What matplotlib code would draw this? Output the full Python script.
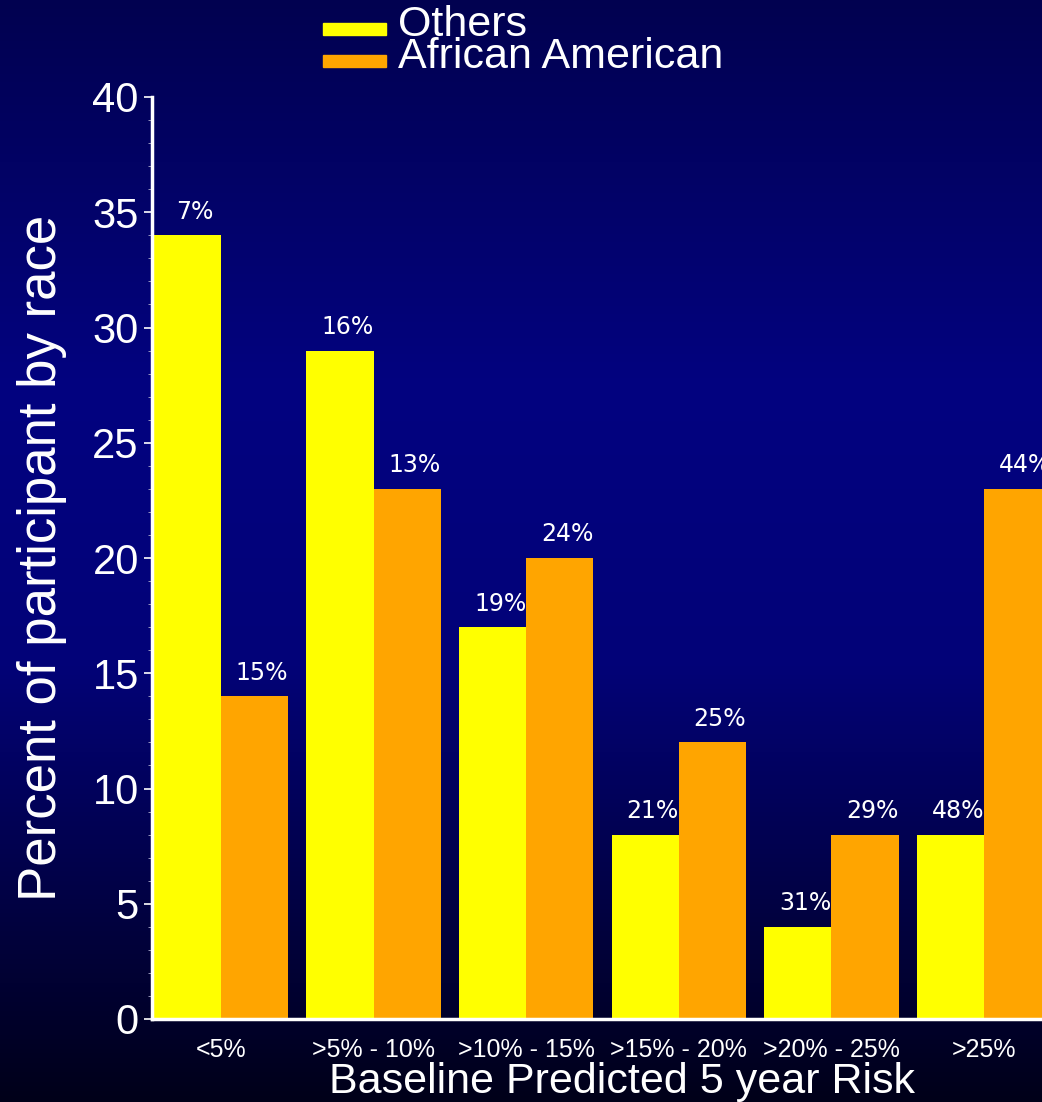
import numpy as np
import matplotlib.pyplot as plt
from matplotlib.patches import Rectangle
from matplotlib.ticker import MultipleLocator

categories = ['<5%', '>5% - 10%', '>10% - 15%', '>15% - 20%', '>20% - 25%', '>25%']
others = [34, 29, 17, 8, 4, 8]
african_american = [14, 23, 20, 12, 8, 23]
others_labels = ['7%', '16%', '19%', '21%', '31%', '48%']
aa_labels = ['15%', '13%', '24%', '25%', '29%', '44%']
series_names = ['Others', 'African American']
colors = ['#ffff00', '#ffa500']

plt.rcParams['font.family'] = ['Liberation Sans Narrow', 'Liberation Sans', 'DejaVu Sans']

W, H = 1042, 1102
fig = plt.figure(figsize=(W / 100, H / 100), dpi=100)

# gradient background
bg = fig.add_axes([0, 0, 1, 1], zorder=-10)
stops_y = [0.0, 0.35, 0.6, 0.85, 1.0]
stops_b = [80, 128, 120, 60, 25]
yy = np.linspace(0, 1, 400)
blue = np.interp(yy, stops_y, stops_b) / 255
grad = np.zeros((400, 1, 3))
grad[:, 0, 0] = blue * 0.02
grad[:, 0, 1] = blue * 0.02
grad[:, 0, 2] = blue
bg.imshow(grad, aspect='auto', extent=[0, 1, 1, 0])
bg.axis('off')

ax = fig.add_axes([152 / W, 1 - 1019 / H, 1 - 152 / W, 922 / H])
ax.patch.set_alpha(0)

x = np.arange(len(categories))
w = 0.44
ax.bar(x - w / 2, others, w, color=colors[0])
ax.bar(x + w / 2, african_american, w, color=colors[1])

for xi, v, t in zip(x, others, others_labels):
    ax.text(xi - w / 2 + 0.05, v + 0.5, t, color='white', fontsize=17,
            ha='center', va='bottom', family=['DejaVu Sans'])
for xi, v, t in zip(x, african_american, aa_labels):
    ax.text(xi + w / 2 + 0.05, v + 0.5, t, color='white', fontsize=17,
            ha='center', va='bottom', family=['DejaVu Sans'])

ax.set_xlim(-0.452, 5.38)
ax.set_ylim(0, 40)
ax.yaxis.set_major_locator(MultipleLocator(5))
ax.yaxis.set_minor_locator(MultipleLocator(1))
ax.set_xticks(x)
ax.set_xticklabels(categories, fontsize=18, color='white')
ax.tick_params(axis='y', colors='white', labelsize=30, length=6, width=1.2)
ax.tick_params(axis='y', which='minor', colors='#aaaacc', length=3)
ax.tick_params(axis='x', length=0, pad=14)
for s in ['top', 'right']:
    ax.spines[s].set_visible(False)
for s in ['left', 'bottom']:
    ax.spines[s].set_color('white')
    ax.spines[s].set_linewidth(2.5)

ax.set_ylabel('Percent of participant by race', fontsize=38, color='white', labelpad=18)
ax.set_xlabel('Baseline Predicted 5 year Risk', fontsize=31, color='white')
ax.xaxis.set_label_coords((622 - 152) / (W - 152), -0.047)

# legend, placed by hand (handles sit on the text baseline, rows packed tight)
for i, c in enumerate(colors):
    base = 35 + 32 * i
    fig.patches.append(Rectangle((323 / W, 1 - base / H), 63 / W, 12 / H,
                                 transform=fig.transFigure, color=c))
fig.text(398 / W, 1 - 5 / H, '\n'.join(series_names), color='white', fontsize=31,
         ha='left', va='top', linespacing=0.74)

fig.savefig('out.png', dpi=100)
